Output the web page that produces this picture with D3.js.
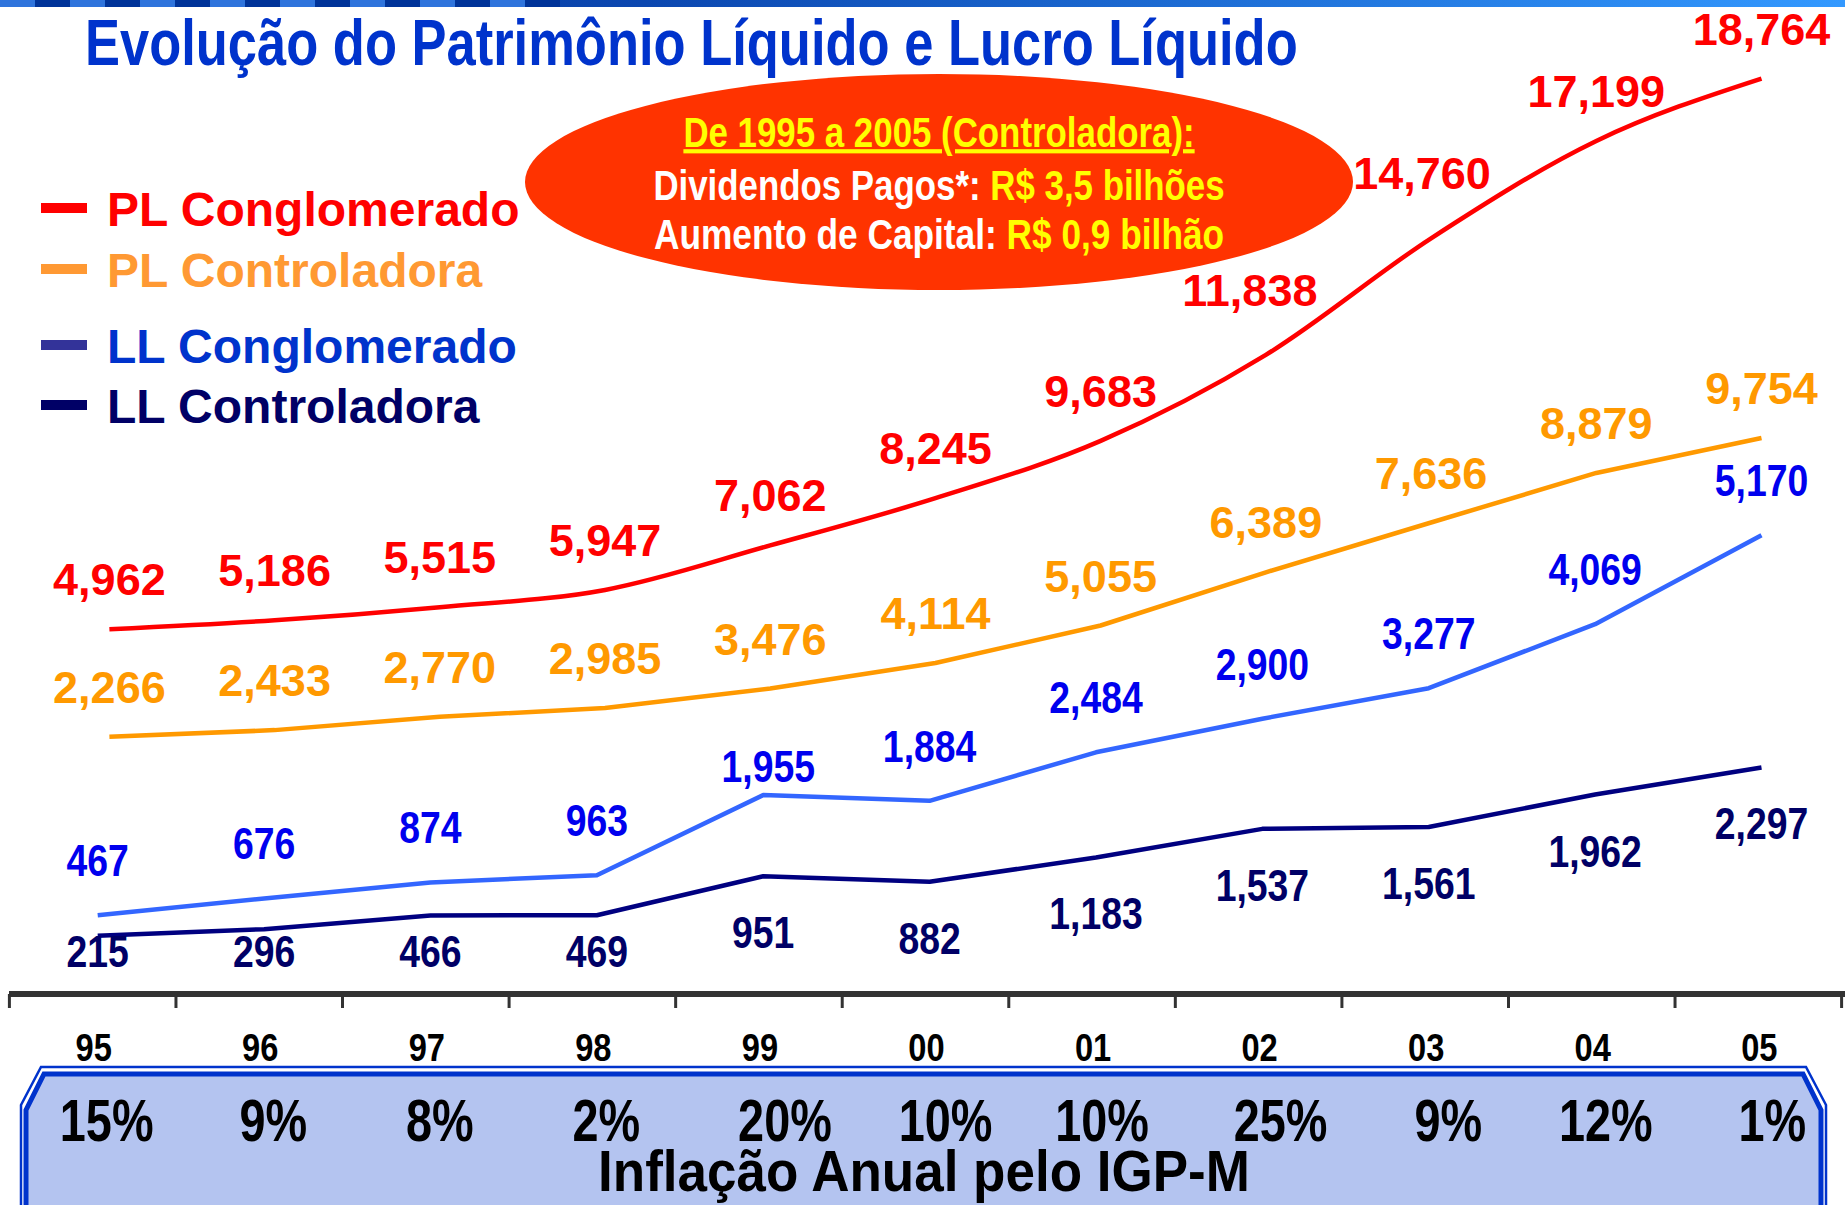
<!DOCTYPE html>
<html><head><meta charset="utf-8">
<script src="https://cdn.jsdelivr.net/npm/d3@7/dist/d3.min.js"></script>
<style>
html,body{margin:0;padding:0;background:#fff;}
svg{display:block;}
</style></head>
<body>
<svg id="chart" width="1845" height="1205"></svg>
<script>
// ---- data ----
const years = ["95","96","97","98","99","00","01","02","03","04","05"];
const plConglomerado = [4962,5186,5515,5947,7062,8245,9683,11838,14760,17199,18764];
const plControladora = [2266,2433,2770,2985,3476,4114,5055,6389,7636,8879,9754];
const llConglomerado = [467,676,874,963,1955,1884,2484,2900,3277,4069,5170];
const llControladora = [215,296,466,469,951,882,1183,1537,1561,1962,2297];
const inflation = ["15%","9%","8%","2%","20%","10%","10%","25%","9%","12%","1%"];
const legendLabels = ["PL Conglomerado","PL Controladora","LL Conglomerado","LL Controladora"];
const titleText = "Evolução do Patrimônio Líquido e Lucro Líquido";
const boxTitle = "De 1995 a 2005 (Controladora):";
const boxLine2 = ["Dividendos Pagos*: ","R$ 3,5 bilhões"];
const boxLine3 = ["Aumento de Capital: ","R$ 0,9 bilhão"];
const inflationCaption = "Inflação Anual pelo IGP-M";

// ---- layout ----
const W = 1845, H = 1205;
const svg = d3.select("#chart");
const FONT = "'Liberation Sans',Arial,sans-serif";
const fmt = d3.format(",");

const xBand = d3.scaleBand().domain(years).range([9.4, 1841.6]);
const xPL = d3.scalePoint().domain(years).range([109.4, 1761.5]);
const xLL = d3.scalePoint().domain(years).range([97.7, 1761.5]);
const yPL = d3.scaleLinear().domain([0, 20000]).range([827.2, 29.2]);
const yLL = d3.scaleLinear().domain([0, 6000]).range([953.1, 468.1]);

// condensed bold text helper (narrow face emulated by horizontal scaling)
function ntext(parent, x, y, size, sx, anchor) {
  return parent.append("text")
    .attr("transform", `translate(${x},${y}) scale(${sx},1)`)
    .attr("font-family", FONT).attr("font-weight", "bold")
    .attr("font-size", size).attr("text-anchor", anchor || "middle");
}

svg.append("rect").attr("width", W).attr("height", H).attr("fill", "#fff");

// top stripe
const defs = svg.append("defs");
const g1 = defs.append("linearGradient").attr("id","stripe").attr("x1","0").attr("x2","1");
g1.append("stop").attr("offset","0").attr("stop-color","#0a3a9c");
g1.append("stop").attr("offset","0.35").attr("stop-color","#0b47b0");
g1.append("stop").attr("offset","1").attr("stop-color","#3399ff");
svg.append("rect").attr("x",0).attr("y",0).attr("width",W).attr("height",7).attr("fill","url(#stripe)");
svg.selectAll("rect.blk").data(d3.range(0, 16)).join("rect")
  .attr("class","blk")
  .attr("x", i => i * 35).attr("y", 0).attr("width", 35).attr("height", 7)
  .attr("fill", i => i % 2 ? "#003399" : "#2f74dc");

// title
ntext(svg, 85, 65, 64, 0.82, "start").attr("fill","#0033cc").text(titleText);

// ellipse note
svg.append("ellipse").attr("cx", 939).attr("cy", 182).attr("rx", 414).attr("ry", 108).attr("fill","#ff3300");
ntext(svg, 939, 147, 42, 0.83).attr("fill","#ffff00")
  .attr("text-decoration","underline").text(boxTitle);
const t2 = ntext(svg, 939, 200, 42, 0.83);
t2.append("tspan").attr("fill","#ffffff").text(boxLine2[0]);
t2.append("tspan").attr("fill","#ffff00").text(boxLine2[1]);
const t3 = ntext(svg, 939, 249, 42, 0.84);
t3.append("tspan").attr("fill","#ffffff").text(boxLine3[0]);
t3.append("tspan").attr("fill","#ffff00").text(boxLine3[1]);

// legend
const legendSwatch = ["#ff0000","#ff9933","#333399","#000066"];
const legendText = ["#ff0000","#ff9933","#0033cc","#000066"];
const legendBase = [226, 287, 363, 423];
const lg = svg.append("g");
legendLabels.forEach((lab, i) => {
  lg.append("rect").attr("x", 41).attr("y", legendBase[i] - 23).attr("width", 46).attr("height", 10).attr("fill", legendSwatch[i]);
  lg.append("text").attr("x", 107).attr("y", legendBase[i])
    .attr("font-family", FONT).attr("font-weight","bold").attr("font-size", 48)
    .attr("fill", legendText[i]).text(lab);
});

// lines
function drawSeries(vals, xs, ys, color, curve) {
  const line = d3.line().x((d,i) => xs(years[i])).y(d => ys(d)).curve(curve);
  svg.append("path").datum(vals).attr("d", line).attr("fill","none")
    .attr("stroke", color).attr("stroke-width", 4.5).attr("stroke-linejoin","round");
}
drawSeries(plControladora, xPL, yPL, "#ff9900", d3.curveLinear);
drawSeries(plConglomerado, xPL, yPL, "#ff0000", d3.curveMonotoneX);
drawSeries(llControladora, xLL, yLL, "#000080", d3.curveLinear);
drawSeries(llConglomerado, xLL, yLL, "#3366ff", d3.curveLinear);

// value labels
const redNudge = {"02": [-16, -15], "03": [-9, -15]};
const blueNudge = {"99": [5, 26]};
const plG = svg.append("g");
plConglomerado.forEach((d, i) => {
  const n = redNudge[years[i]] || [0, 0];
  plG.append("text").attr("x", xPL(years[i]) + n[0]).attr("y", yPL(d) - 34 + n[1])
    .attr("text-anchor","middle").attr("font-family", FONT).attr("font-weight","bold")
    .attr("font-size", 45).attr("fill","#ff0000").text(fmt(d));
});
plControladora.forEach((d, i) => {
  plG.append("text").attr("x", xPL(years[i])).attr("y", yPL(d) - 34)
    .attr("text-anchor","middle").attr("font-family", FONT).attr("font-weight","bold")
    .attr("font-size", 45).attr("fill","#ff9900").text(fmt(d));
});
const llG = svg.append("g");
llConglomerado.forEach((d, i) => {
  const n = blueNudge[years[i]] || [0, 0];
  ntext(llG, xLL(years[i]) + n[0], yLL(d) - 39 + n[1], 45, 0.83).attr("fill","#0000ee").text(fmt(d));
});
llControladora.forEach((d, i) => {
  ntext(llG, xLL(years[i]), Math.min(yLL(d) + 72, 967), 45, 0.83).attr("fill","#000066").text(fmt(d));
});

// x axis
const axisY = 994;
svg.append("line").attr("x1", 9).attr("x2", W).attr("y1", axisY).attr("y2", axisY)
  .attr("stroke","#333333").attr("stroke-width", 6);
const bounds = years.map(y => xBand(y)).concat([xBand(years[years.length-1]) + xBand.bandwidth()]);
svg.append("g").selectAll("line").data(bounds).join("line")
  .attr("x1", d => d).attr("x2", d => d).attr("y1", axisY).attr("y2", axisY + 14)
  .attr("stroke","#333333").attr("stroke-width", 3);
const yrG = svg.append("g");
years.forEach(y => {
  ntext(yrG, xBand(y) + xBand.bandwidth()/2 + 1, 1061, 38, 0.86).attr("fill","#000").text(y);
});

// inflation box
function chamfer(x0, y0, x1, y1, cx, cy) {
  return `M${x0+cx},${y0} L${x1-cx},${y0} L${x1},${y0+cy} L${x1},${y1} L${x0},${y1} L${x0},${y0+cy} Z`;
}
svg.append("path").attr("d", chamfer(21, 1067, 1826, 1230, 20, 38))
  .attr("fill","#ffffff").attr("stroke","#0033cc").attr("stroke-width", 2.5);
svg.append("path").attr("d", chamfer(26, 1074, 1821, 1230, 18, 36))
  .attr("fill","#b4c4f0").attr("stroke","#0033cc").attr("stroke-width", 5);
const pctNudge = [0, 0, 0, 0, 12, 6, -4, 8, 9, 0, 0];
const pG = svg.append("g");
inflation.forEach((d, i) => {
  ntext(pG, xBand(years[i]) + xBand.bandwidth()/2 + 14 + pctNudge[i], 1141, 60, 0.78).attr("fill","#000").text(d);
});
ntext(svg, 924, 1191, 57, 0.93).attr("fill","#000").text(inflationCaption);
</script>
</body></html>
